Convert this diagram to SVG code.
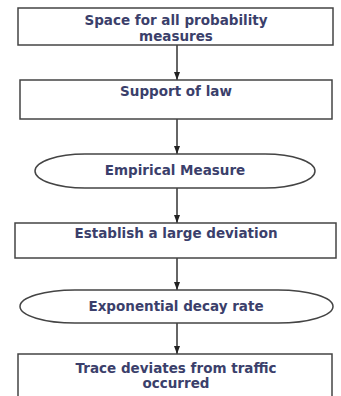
<svg xmlns="http://www.w3.org/2000/svg" width="341" height="396" viewBox="0 0 341 396">
<defs>
<marker id="ah" markerWidth="8" markerHeight="6" refX="8" refY="3" orient="auto" markerUnits="userSpaceOnUse">
<path d="M0,0 L8,3 L0,6 Z" fill="#222"/>
</marker>
<style>
.box{fill:#fff;stroke:#444;stroke-width:1.5}
.t{font-family:"DejaVu Sans",Verdana,sans-serif;font-size:13.5px;font-weight:bold;fill:#3b3f6b;text-anchor:middle}
.c{stroke:#333;stroke-width:1.5;fill:none}
</style>
</defs>
<rect width="341" height="396" fill="#fff"/>
<g id="connectors">
<line class="c" x1="177" y1="45" x2="177" y2="80" marker-end="url(#ah)"/>
<line class="c" x1="177" y1="119" x2="177" y2="154" marker-end="url(#ah)"/>
<line class="c" x1="177" y1="188" x2="177" y2="223" marker-end="url(#ah)"/>
<line class="c" x1="177" y1="258" x2="177" y2="290" marker-end="url(#ah)"/>
<line class="c" x1="177" y1="323" x2="177" y2="354" marker-end="url(#ah)"/>
</g>
<g id="n1">
<rect class="box" x="18" y="8" width="315" height="37"/>
<text class="t" x="176" y="25">Space for all probability</text>
<text class="t" x="176" y="41">measures</text>
</g>
<g id="n2">
<rect class="box" x="20" y="80" width="312" height="39"/>
<text class="t" x="176" y="96">Support of law</text>
</g>
<g id="n3">
<rect class="box" x="35" y="154" width="280" height="34" rx="50" ry="17"/>
<text class="t" x="175" y="175">Empirical  Measure</text>
</g>
<g id="n4">
<rect class="box" x="15" y="223" width="321" height="35"/>
<text class="t" x="176" y="238">Establish a large deviation</text>
</g>
<g id="n5">
<rect class="box" x="20" y="290" width="313" height="33" rx="55" ry="16.5"/>
<text class="t" x="176" y="311">Exponential decay rate</text>
</g>
<g id="n6">
<rect class="box" x="18" y="354" width="314" height="50"/>
<text class="t" x="176" y="373">Trace deviates from traffic</text>
<text class="t" x="176" y="388">occurred</text>
</g>
</svg>
